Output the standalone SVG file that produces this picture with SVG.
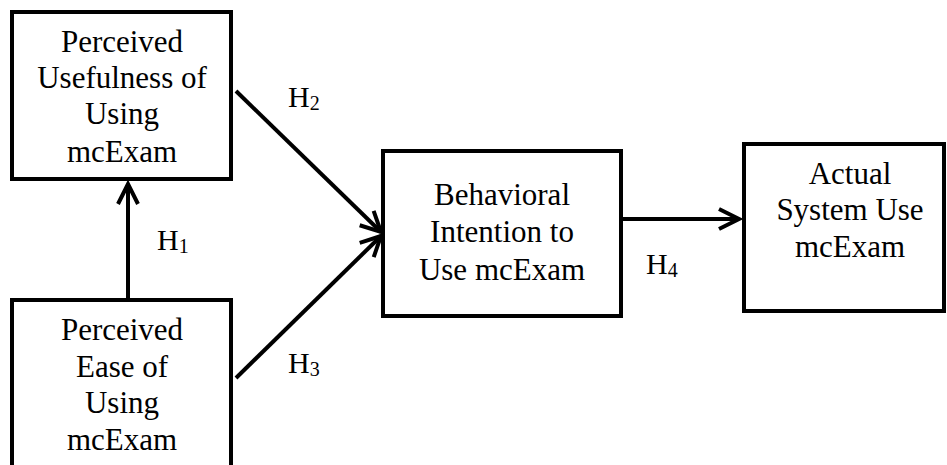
<svg xmlns="http://www.w3.org/2000/svg" width="947" height="465" viewBox="0 0 947 465">
  <style>
    .box { fill: #ffffff; stroke: #000000; stroke-width: 4; }
    text { font-family: 'Liberation Serif', 'Times New Roman', Times, 'DejaVu Serif', serif; fill: #000000; }
    .label { font-size: 31px; text-anchor: middle; }
    .hyp { font-size: 30px; }
    .sub { font-size: 20px; }
    .edge { stroke: #000000; stroke-width: 4; fill: none; marker-end: url(#open-arrow); }
  </style>
  <defs>
    <marker id="open-arrow" markerUnits="userSpaceOnUse" viewBox="-26 -14 30 28" refX="0" refY="0" markerWidth="30" markerHeight="28" orient="auto">
      <path d="M -20 -10 L 0 0 L -20 10" fill="none" stroke="#000000" stroke-width="4" stroke-linejoin="miter"/>
    </marker>
  </defs>
  <rect width="947" height="465" fill="#ffffff"/>

  <g id="connectors">
    <line class="edge" x1="128" y1="298" x2="128" y2="184"/>
    <line class="edge" x1="236" y1="91" x2="381" y2="232"/>
    <line class="edge" x1="236" y1="378" x2="381" y2="236"/>
    <line class="edge" x1="622" y1="219" x2="739" y2="219"/>
    <text class="hyp" x="157" y="250">H<tspan class="sub" dy="3">1</tspan></text>
    <text class="hyp" x="288" y="107">H<tspan class="sub" dy="3">2</tspan></text>
    <text class="hyp" x="288" y="373">H<tspan class="sub" dy="3">3</tspan></text>
    <text class="hyp" x="646" y="274">H<tspan class="sub" dy="3">4</tspan></text>
  </g>

  <g id="perceived-usefulness">
    <rect class="box" x="12" y="12" width="219" height="167"/>
    <text class="label" x="122" y="52">Perceived</text>
    <text class="label" x="122" y="88">Usefulness of</text>
    <text class="label" x="122" y="124">Using</text>
    <text class="label" x="122" y="162">mcExam</text>
  </g>

  <g id="perceived-ease">
    <rect class="box" x="12" y="300" width="219" height="190"/>
    <text class="label" x="122" y="340">Perceived</text>
    <text class="label" x="122" y="377">Ease of</text>
    <text class="label" x="122" y="413">Using</text>
    <text class="label" x="122" y="450">mcExam</text>
  </g>

  <g id="behavioral-intention">
    <rect class="box" x="383" y="151" width="238" height="165"/>
    <text class="label" x="502" y="205">Behavioral</text>
    <text class="label" x="502" y="242">Intention to</text>
    <text class="label" x="502" y="280">Use mcExam</text>
  </g>

  <g id="actual-system-use">
    <rect class="box" x="744" y="144" width="200" height="167"/>
    <text class="label" x="850" y="184">Actual</text>
    <text class="label" x="850" y="220">System Use</text>
    <text class="label" x="850" y="257">mcExam</text>
  </g>
</svg>
